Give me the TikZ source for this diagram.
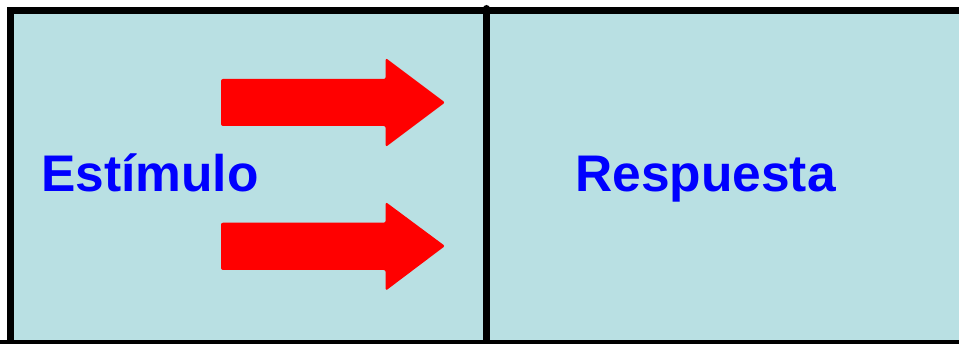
\documentclass[tikz,border=0pt]{standalone}
\usepackage{fontspec}
\setmainfont{Liberation Sans}
\definecolor{boxfill}{RGB}{185,224,227}
\definecolor{txtblue}{RGB}{0,0,255}
\definecolor{arrred}{RGB}{255,0,0}
\begin{document}
\begin{tikzpicture}[x=1pt,y=-1pt,
  label/.style={text=txtblue,font=\bfseries\fontsize{51.5}{60}\selectfont,inner sep=0pt,anchor=base west},
  redarrow/.style={fill=arrred,draw=none,rounded corners=2pt},
  border/.style={draw=black,line width=7pt}]
\useasboundingbox (0,0) rectangle (959,344);
\begin{scope}
\clip (0,0) rectangle (959,344);
\fill[boxfill] (10,11) rectangle (970,343);
\draw[border] (10.5,343) -- (10.5,11) -- (975,11);
\draw[border] (0,343.5) -- (975,343.5);
\draw[border,line cap=round] (486.5,8.5) -- (486.5,350);
% arrows
\path[redarrow] (221,79) -- (385.7,79) -- (385.7,58) -- (445,102.5) -- (385.7,147) -- (385.7,126) -- (221,126) -- cycle;
\path[redarrow] (221,222.7) -- (385.7,222.7) -- (385.7,202) -- (445,246) -- (385.7,290.7) -- (385.7,270) -- (221,270) -- cycle;
\end{scope}
\node[label] (estimulo) at (41,192) {Estímulo};
\node[label] (respuesta) at (575,192) {Respuesta};
\end{tikzpicture}
\end{document}
